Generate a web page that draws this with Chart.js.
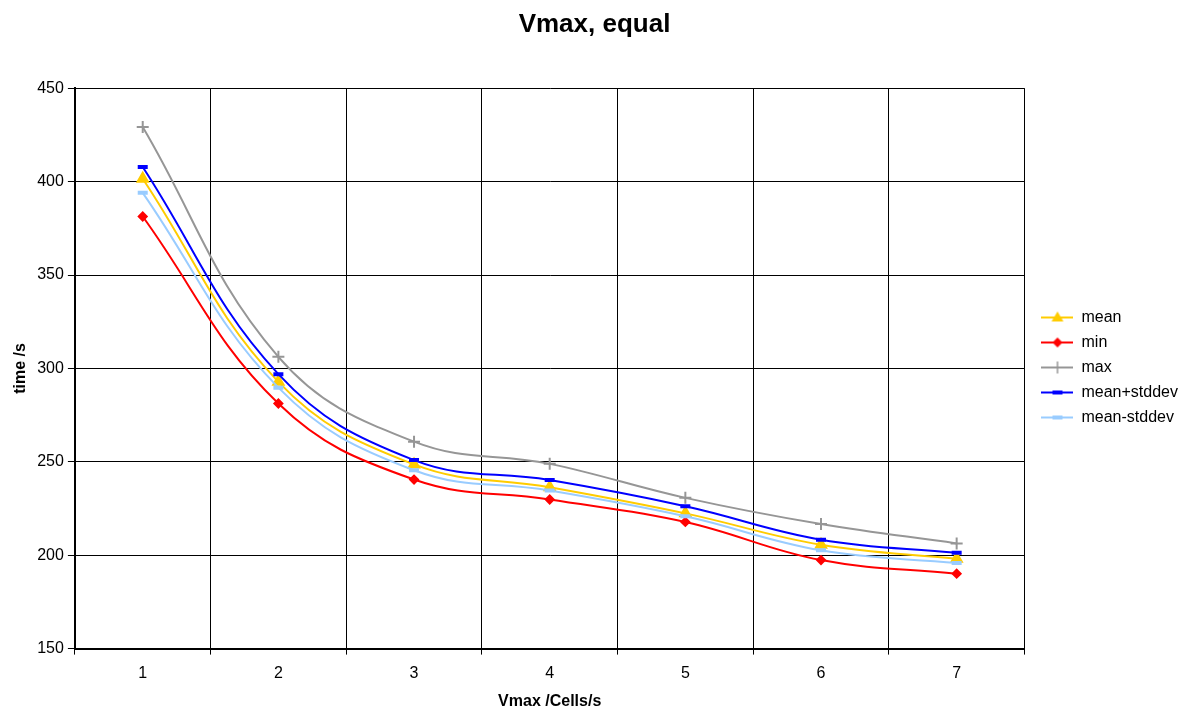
<!DOCTYPE html>
<html>
<head>
<meta charset="utf-8">
<script src="https://cdn.jsdelivr.net/npm/chart.js@4.4.0/dist/chart.umd.min.js"></script>
<style>
  html, body { margin: 0; padding: 0; background: #fff; }
  #wrap { width: 1188px; height: 711px; }
</style>
</head>
<body>
<div id="wrap"><canvas id="chart" width="1188" height="711"></canvas></div>
<script>
// values
const vmax = ['1', '2', '3', '4', '5', '6', '7'];
const meanVals  = [401.5, 292.8, 248.6, 236.4, 222.4, 205.6, 198.1];
const minVals   = [381.3, 281.2, 240.5, 229.8, 217.8, 197.4, 190.1];
const maxVals   = [429.2, 306.2, 260.8, 248.9, 230.7, 216.7, 206.3];
const plusVals  = [407.8, 296.9, 250.9, 240.2, 226.2, 208.3, 201.3];
const minusVals = [394.0, 289.7, 245.5, 234.6, 220.8, 202.6, 195.8];

const FONT = '"Liberation Sans", Arial, sans-serif';

// small legend sample: line with the marker in the middle
function sample(color, marker) {
    const c = document.createElement('canvas');
    c.width = 32; c.height = 14;
    const g = c.getContext('2d');
    g.strokeStyle = color; g.fillStyle = color; g.lineWidth = 2;
    g.beginPath(); g.moveTo(0, 7); g.lineTo(32, 7); g.stroke();
    g.beginPath();
    if (marker === 'triangle') {
        g.moveTo(16, 1); g.lineTo(22, 11); g.lineTo(10, 11); g.closePath(); g.fill();
    } else if (marker === 'rectRot') {
        g.moveTo(16, 2); g.lineTo(21, 7); g.lineTo(16, 12); g.lineTo(11, 7); g.closePath(); g.fill();
    } else if (marker === 'cross') {
        g.lineWidth = 1.5;
        g.moveTo(16, 1); g.lineTo(16, 13); g.moveTo(11, 7); g.lineTo(21, 7); g.stroke();
    } else {
        g.fillRect(11, 5, 10, 4);
    }
    return c;
}

function series(label, data, color, marker, radius) {
    return {
        label: label,
        data: data,
        borderColor: color,
        backgroundColor: color,
        borderWidth: 2,
        tension: 0.4,
        pointStyle: marker,
        pointRadius: radius,
        pointBorderWidth: marker === 'line' ? 4 : 2,
        pointBorderColor: color,
        pointBackgroundColor: color,
        legendMarker: marker
    };
}

const datasets = [
    series('mean', meanVals, '#FFCC00', 'triangle', 6),
    series('min', minVals, '#FF0000', 'rectRot', 4),
    series('max', maxVals, '#969696', 'cross', 6),
    series('mean+stddev', plusVals, '#0000FF', 'line', 5),
    series('mean-stddev', minusVals, '#99CCFF', 'line', 5)
];
// later series drawn on top, like the original
datasets.forEach((d, i) => { d.order = datasets.length - i; });

// nudge the legend block to where the original has it
const legendShift = {
    id: 'legendShift',
    afterLayout(chart) {
        const lg = chart.legend;
        if (!lg) return;
        lg.left += 8; lg.right += 8;
        lg.top += 12; lg.bottom += 12;
    }
};

new Chart(document.getElementById('chart'), {
    type: 'line',
    data: { labels: vmax, datasets: datasets },
    plugins: [legendShift],
    options: {
        responsive: false,
        animation: false,
        layout: { padding: { left: 9, right: 8, top: 0, bottom: 0 } },
        plugins: {
            title: {
                display: true,
                text: 'Vmax, equal',
                color: '#000',
                font: { family: FONT, size: 26, weight: 'bold' },
                padding: { top: 9, bottom: 48 }
            },
            legend: {
                position: 'right',
                labels: {
                    usePointStyle: true,
                    pointStyleWidth: 32,
                    padding: 9,
                    color: '#000',
                    font: { family: FONT, size: 16 },
                    generateLabels: chart => chart.data.datasets.map((d, i) => ({
                        text: d.label,
                        pointStyle: sample(d.borderColor, d.legendMarker),
                        fillStyle: d.borderColor,
                        strokeStyle: d.borderColor,
                        lineWidth: 0,
                        datasetIndex: i,
                        hidden: false
                    }))
                }
            },
            tooltip: { enabled: false }
        },
        scales: {
            x: {
                offset: true,
                grid: { offset: true, color: '#000', lineWidth: 1, tickLength: 6, tickColor: '#000' },
                border: { color: '#000', width: 2 },
                ticks: { color: '#000', padding: 9, font: { family: FONT, size: 16 } },
                title: {
                    display: true, text: 'Vmax /Cells/s', color: '#000',
                    font: { family: FONT, size: 16, weight: 'bold' },
                    padding: { top: 0, bottom: 0 }
                }
            },
            y: {
                min: 150,
                max: 450,
                ticks: { stepSize: 50, color: '#000', padding: 4, font: { family: FONT, size: 16 } },
                grid: { color: '#000', lineWidth: 1, tickLength: 7, tickColor: '#000' },
                border: { color: '#000', width: 2 },
                title: {
                    display: true, text: 'time /s', color: '#000',
                    font: { family: FONT, size: 16, weight: 'bold' },
                    padding: { top: 2, bottom: 3 }
                }
            }
        }
    }
});
</script>
</body>
</html>
